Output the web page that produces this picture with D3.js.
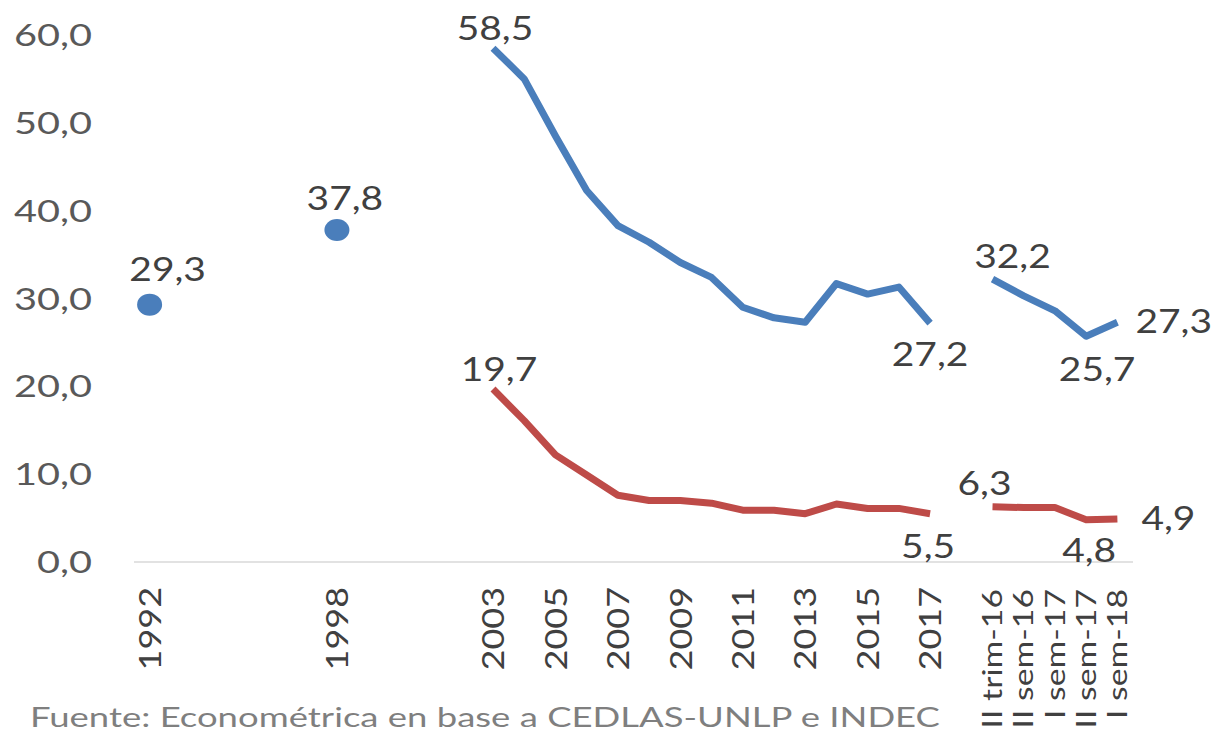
<!DOCTYPE html>
<html><head><meta charset="utf-8">
<script src="https://cdn.jsdelivr.net/npm/d3@7"></script>
<style>
html,body{margin:0;padding:0;background:#fff;}
svg{display:block;font-family:Lato, "Open Sans", sans-serif;}
</style></head>
<body><svg id="c" width="1216" height="735"></svg>
<script>
// Categories (year positions 1992..2017, a gap, then semesters)
const years = d3.range(1992, 2018).map(String);
const periods = ["II trim-16","II sem-16","I sem-17","II sem-17","I sem-18"];
const categories = [...years, "gap", ...periods];
const tickLabels = ["1992","1998","2003","2005","2007","2009","2011","2013","2015","2017", ...periods];
const yTicks = [0,10,20,30,40,50,60];

// Blue series
const bluePoints = [{c:"1992", v:29.3},{c:"1998", v:37.8}];
const blueYears = ["2003","2004","2005","2006","2007","2008","2009","2010","2011","2012","2013","2014","2015","2016","2017"];
const blueValues = [58.5,55.0,48.5,42.3,38.3,36.4,34.1,32.4,29.0,27.8,27.3,31.7,30.5,31.3,27.2];
const blueRecent = [32.2,30.3,28.6,25.7,27.3];
// Red series
const redValues = [19.7,16.1,12.2,9.9,7.6,7.0,7.0,6.7,5.9,5.9,5.5,6.6,6.1,6.1,5.5];
const redRecent = [6.3,6.2,6.2,4.8,4.9];

const source = "Fuente: Econométrica en base a CEDLAS-UNLP e INDEC";

const svg = d3.select("#c");
const x = d3.scalePoint().domain(categories).range([134,1133]).padding(0.5);
const y = d3.scaleLinear().domain([0,60]).range([562,35]);
const BLUE = "#4a7ebb", RED = "#be4b48", TXT = "#404040";

// widen glyphs (reference font is wide)
function stretch(sel, f) {
  sel.each(function(){
    const w = this.getComputedTextLength();
    d3.select(this).attr("textLength", w*f).attr("lengthAdjust","spacingAndGlyphs");
  });
}

// Y tick labels
svg.append("g").selectAll("text").data(yTicks).join("text")
  .attr("x", 92).attr("y", d=>y(d)).attr("dy","0.36em")
  .attr("text-anchor","end").attr("font-size",31).attr("fill","#595959")
  .text(d=>d.toFixed(1).replace(".",","))
  .call(stretch, 1.28);

// X axis line
svg.append("line").attr("x1",x.range()[0]).attr("x2",x.range()[1])
  .attr("y1",y(0)).attr("y2",y(0)).attr("stroke","#d9d9d9").attr("stroke-width",1.5);

// X tick labels (rotated)
svg.append("g").selectAll("text").data(tickLabels).join("text")
  .attr("transform", d=>`translate(${x(d)},${periods.includes(d)?589:587}) rotate(-90)`)
  .attr("dy","0.36em").attr("text-anchor","end")
  .attr("font-size", d=>periods.includes(d)?27:31).attr("fill",TXT)
  .text(d=>d)
  .each(function(d){
    const w = this.getComputedTextLength();
    const L = periods.includes(d) ? Math.min(w*1.25, 142) : w*1.16;
    d3.select(this).attr("textLength", L).attr("lengthAdjust","spacingAndGlyphs");
  });

const line = d3.line().x(d=>x(d.c)).y(d=>y(d.v));
const mk = (cats, vals) => cats.map((c,i)=>({c, v:vals[i]}));
const seg = [
  {data: mk(blueYears, blueValues), color: BLUE},
  {data: mk(periods, blueRecent), color: BLUE},
  {data: mk(blueYears, redValues), color: RED},
  {data: mk(periods, redRecent), color: RED}
];
svg.append("g").selectAll("path").data(seg).join("path")
  .attr("d", d=>line(d.data)).attr("fill","none").attr("stroke", d=>d.color)
  .attr("stroke-width",7).attr("stroke-linejoin","round");

svg.append("g").selectAll("ellipse").data(bluePoints).join("ellipse")
  .attr("cx", d=>x(d.c)).attr("cy", d=>y(d.v)).attr("rx",12.5).attr("ry",11).attr("fill",BLUE);

// Data labels
const fmt = v => v.toFixed(1).replace(".",",");
const labels = [
  {c:"1992", v:29.3, dx:18, dy:-24, a:"middle"},
  {c:"1998", v:37.8, dx:8, dy:-20, a:"middle"},
  {c:"2003", v:58.5, dx:2, dy:-8, a:"middle"},
  {c:"2003", v:19.7, dx:6, dy:-8, a:"middle"},
  {c:"2017", v:27.2, dx:0, dy:43, a:"middle"},
  {c:"2017", v:5.5, dx:-2, dy:44, a:"middle"},
  {c:"II trim-16", v:32.2, dx:20, dy:-11, a:"middle"},
  {c:"II sem-17", v:25.7, dx:11, dy:45, a:"middle"},
  {c:"I sem-18", v:27.3, dx:18, dy:11, a:"start"},
  {c:"II trim-16", v:6.3, dx:-8, dy:-12, a:"middle"},
  {c:"II sem-17", v:4.8, dx:3, dy:42, a:"middle"},
  {c:"I sem-18", v:4.9, dx:24, dy:11, a:"start"}
];
svg.append("g").selectAll("text").data(labels).join("text")
  .attr("x", d=>x(d.c)+d.dx).attr("y", d=>y(d.v)+d.dy)
  .attr("text-anchor", d=>d.a).attr("font-size",33).attr("fill",TXT)
  .text(d=>fmt(d.v))
  .call(stretch, 1.18);

// Source
svg.append("text").attr("x",30).attr("y",727).attr("font-size",27).attr("fill","#7f7f7f")
  .attr("textLength",910).attr("lengthAdjust","spacingAndGlyphs").text(source);
</script></body></html>
